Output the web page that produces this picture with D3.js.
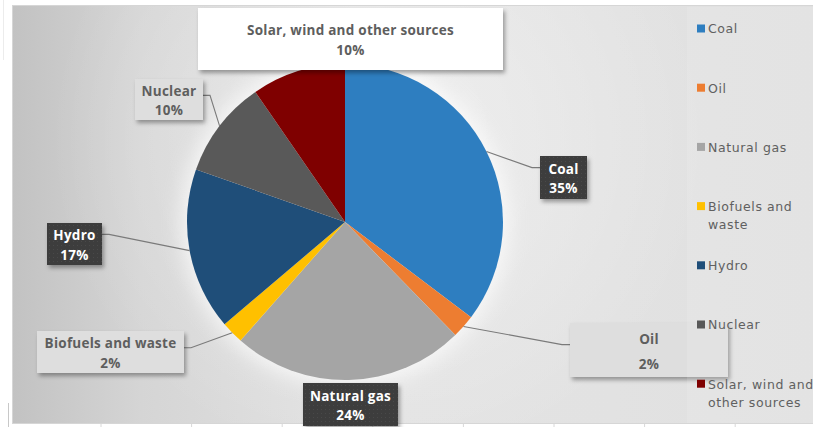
<!DOCTYPE html>
<html>
<head>
<meta charset="utf-8">
<script src="https://cdn.jsdelivr.net/npm/d3@7"></script>
<style>
  html, body { margin: 0; padding: 0; background: #ffffff; }
  svg { display: block; }
</style>
</head>
<body>
<svg id="chart" width="813" height="427"></svg>
<script>
// ---- data ----
const categories = ["Coal", "Oil", "Natural gas", "Biofuels and waste", "Hydro", "Nuclear", "Solar, wind and other sources"];
const shares = [35.3, 2.4, 23.8, 2.3, 16.6, 10.0, 9.6];
const colors = ["#2E7EC0", "#ED7D31", "#A5A5A5", "#FFC000", "#1F4E79", "#595959", "#7F0000"];
const legendLines = [["Coal"], ["Oil"], ["Natural gas"], ["Biofuels and", "waste"], ["Hydro"], ["Nuclear"], ["Solar, wind and", "other sources"]];

// ---- layout ----
const W = 813, H = 427;
const cx = 345, cy = 222, R = 158;
const boxes = [
  {x0: 540, y0: 156, x1: 587, y1: 199, dark: true,  lead: "left"},   // Coal
  {x0: 570, y0: 323, x1: 728, y1: 377, dark: false, lead: "left"},   // Oil
  {x0: 303, y0: 383, x1: 398, y1: 426, dark: true,  lead: null},     // Natural gas
  {x0: 37,  y0: 331, x1: 184, y1: 373, dark: false, lead: "right"},  // Biofuels
  {x0: 47,  y0: 223, x1: 102, y1: 265, dark: true,  lead: "right"},  // Hydro
  {x0: 135, y0: 79,  x1: 203, y1: 120, dark: false, lead: "right"},  // Nuclear
  {x0: 198, y0: 8,   x1: 503, y1: 70,  dark: false, lead: null, white: true} // Solar
];

const svg = d3.select("#chart");
const defs = svg.append("defs");

const lgd = defs.append("linearGradient").attr("id", "bgx").attr("x1", 0).attr("x2", 1).attr("y1", 0).attr("y2", 0);
[[0, "#c2c2c2"], [0.16, "#d5d5d5"], [0.45, "#e3e3e3"], [0.75, "#e2e2e2"], [1, "#e0e0e0"]]
  .forEach(([o, c]) => lgd.append("stop").attr("offset", o).attr("stop-color", c));

const rg = defs.append("radialGradient").attr("id", "hl").attr("gradientUnits", "userSpaceOnUse")
  .attr("cx", 380).attr("cy", 140).attr("r", 330);
rg.append("stop").attr("offset", 0).attr("stop-color", "#ffffff").attr("stop-opacity", 0.45);
rg.append("stop").attr("offset", 1).attr("stop-color", "#ffffff").attr("stop-opacity", 0);

const sh = defs.append("filter").attr("id", "shadow").attr("x", "-20%").attr("y", "-20%").attr("width", "150%").attr("height", "160%");
sh.append("feDropShadow").attr("dx", 2).attr("dy", 3).attr("stdDeviation", 2.2).attr("flood-color", "#000").attr("flood-opacity", 0.35);

const glow = defs.append("filter").attr("id", "glow").attr("x", "-30%").attr("y", "-30%").attr("width", "160%").attr("height", "160%");
glow.append("feGaussianBlur").attr("stdDeviation", 10);

const pat = defs.append("pattern").attr("id", "dots").attr("width", 4).attr("height", 4).attr("patternUnits", "userSpaceOnUse");
pat.append("rect").attr("width", 4).attr("height", 4).attr("fill", "#3d3d3d");
pat.append("rect").attr("x", 1).attr("y", 1).attr("width", 1).attr("height", 1).attr("fill", "#4a4a4a");

// page details
svg.append("line").attr("x1", 3.5).attr("x2", 3.5).attr("y1", 0).attr("y2", 60).attr("stroke", "#ececec");
svg.append("line").attr("x1", 8.5).attr("x2", 8.5).attr("y1", 403).attr("y2", 427).attr("stroke", "#c8c8c8");
d3.range(8).forEach(i => {
  svg.append("line").attr("x1", 101 + i * 90.6).attr("x2", 101 + i * 90.6).attr("y1", 424).attr("y2", 427).attr("stroke", "#d8d8d8");
});

// chart area
svg.append("rect").attr("x", 12.5).attr("y", 5.5).attr("width", W - 12).attr("height", 418)
  .attr("fill", "url(#bgx)").attr("stroke", "#d6d6d6");
svg.append("rect").attr("x", 13).attr("y", 6).attr("width", W - 13).attr("height", 417)
  .attr("fill", "url(#hl)");

// pie glow
svg.append("circle").attr("cx", cx).attr("cy", cy).attr("r", R + 6)
  .attr("fill", "#ffffff").attr("opacity", 0.7).attr("filter", "url(#glow)");

const pie = d3.pie().sort(null).value(d => d.v);
const arcs = pie(categories.map((c, i) => ({c, v: shares[i], i})));
const arc = d3.arc().innerRadius(0).outerRadius(R);

svg.append("g").attr("transform", `translate(${cx},${cy})`)
  .selectAll("path").data(arcs).join("path")
  .attr("d", arc).attr("fill", d => colors[d.data.i]);

// leader lines
const lines = svg.append("g");
arcs.forEach((a, i) => {
  const b = boxes[i];
  if (!b.lead) return;
  const m = (a.startAngle + a.endAngle) / 2;
  const px = cx + R * Math.sin(m), py = cy - R * Math.cos(m);
  const ey = b.dark ? b.y0 + (b.y1 - b.y0) * 0.27 : b.y0 + (b.y1 - b.y0) * 0.4;
  let ex, elx;
  if (b.lead === "left") { ex = b.x0; elx = b.x0 - 8; }
  else { ex = b.x1; elx = b.x1 + 7; }
  lines.append("polyline")
    .attr("points", `${px},${py} ${elx},${ey} ${ex},${ey}`)
    .attr("fill", "none").attr("stroke", "#7a7a7a").attr("stroke-width", 1.1);
});

// label boxes
const lg = svg.append("g");
arcs.forEach((a, i) => {
  const b = boxes[i];
  lg.append("rect").attr("x", b.x0).attr("y", b.y0).attr("width", b.x1 - b.x0).attr("height", b.y1 - b.y0)
    .attr("fill", b.dark ? "url(#dots)" : (b.white ? "#ffffff" : "#dedede"))
    .attr("filter", "url(#shadow)");
  const tx = (b.x0 + b.x1) / 2;
  const h = b.y1 - b.y0;
  const t1 = b.y0 + h * 0.3, t2 = b.y0 + h * 0.76;
  const col = b.dark ? "#ffffff" : "#5e5e5e";
  lg.append("text").attr("x", tx).attr("y", b.white ? 30 : t1).attr("dy", "0.35em")
    .attr("text-anchor", "middle").attr("font-family", "'Open Sans', sans-serif")
    .attr("font-weight", "bold").attr("font-size", 13.5).attr("letter-spacing", 0.25)
    .attr("fill", col).text(categories[i]);
  lg.append("text").attr("x", tx).attr("y", b.white ? 50 : t2).attr("dy", "0.35em")
    .attr("text-anchor", "middle").attr("font-family", "'Open Sans', sans-serif")
    .attr("font-weight", "bold").attr("font-size", 13.5).attr("letter-spacing", 0.25)
    .attr("fill", col).text(Math.round(a.data.v) + "%");
});

// legend panel overlay (lighter)
svg.append("rect").attr("x", 687).attr("y", 7).attr("width", 126).attr("height", 416)
  .attr("fill", "#ffffff").attr("opacity", 0.12);

// legend
const leg = svg.append("g");
categories.forEach((c, i) => {
  const y = 29 + i * 59.2;
  leg.append("rect").attr("x", 697).attr("y", y - 4.5).attr("width", 8).attr("height", 8).attr("fill", colors[i]);
  legendLines[i].forEach((ln, j) => {
    leg.append("text").attr("x", 708).attr("y", y + j * 18.5).attr("dy", "0.35em")
      .attr("font-family", "'DejaVu Sans', sans-serif").attr("font-size", 12.5).attr("letter-spacing", 0.6)
      .attr("fill", "#606060").text(ln);
  });
});
</script>
</body>
</html>
